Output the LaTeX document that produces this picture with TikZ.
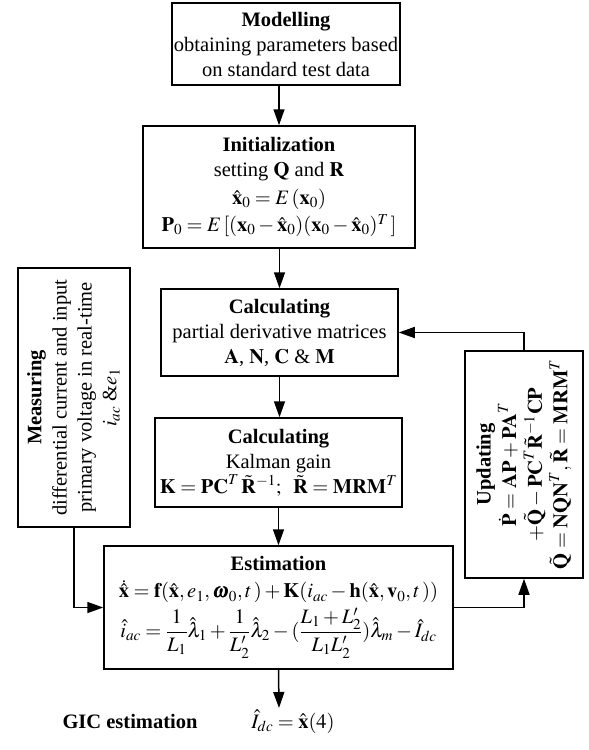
\documentclass[tikz,border=0pt]{standalone}
\usepackage{amsmath}
\usepackage{mathptmx}
\usepackage{bm}
\usepackage{graphicx}
\usepackage[no-math]{fontspec}
\setmainfont{Liberation Serif}
\usetikzlibrary{arrows.meta}
\newcommand{\bx}[1]{\mathbf{#1}}
\begin{document}
\begin{tikzpicture}[x=1pt,y=-1pt,
  box/.style={draw, line width=1.5pt, align=center, inner sep=2pt, font=\fontsize{20.5}{25}\selectfont},
  txt/.style={inner sep=0pt, font=\fontsize{20.5}{25}\selectfont},
  arr/.style={line width=1.5pt, -{Triangle[length=16pt,width=11pt]}}]
\useasboundingbox (0,0) rectangle (589,750);

\node[box, minimum width=228pt, minimum height=82pt] (mod) at (286,44)
  {\textbf{Modelling}\\obtaining parameters based\\on standard test data};

\node[box, minimum width=272pt, minimum height=122pt] (init) at (279,187)
  {\textbf{Initialization}\\setting $\bx{Q}$ and $\bx{R}$\\[3pt]
   $\hat{\bx{x}}_0 = E\,(\bx{x}_0)$\\[2pt]
   $\bx{P}_0 = E\,[(\bx{x}_0-\hat{\bx{x}}_0)(\bx{x}_0-\hat{\bx{x}}_0)^T\,]$};

\node[box, minimum width=237pt, minimum height=87pt] (calc1) at (279.5,332.5)
  {\textbf{Calculating}\\partial derivative matrices\\$\bx{A}$, $\bx{N}$, $\bx{C}$ \& $\bx{M}$};

\node[box, minimum width=247pt, minimum height=89pt] (calc2) at (278.5,462.5)
  {\textbf{Calculating}\\Kalman gain\\
   $\bx{K} = \bx{PC}^T\,\tilde{\bx{R}}^{-1};\;\; \tilde{\bx{R}} = \bx{MRM}^T$};

\node[box, minimum width=349pt, minimum height=123pt] (est) at (278.5,607.5)
  {\textbf{Estimation}\\[2pt]
   $\dot{\hat{\bx{x}}} = \bx{f}(\hat{\bx{x}},e_1,\bm{\omega}_0,t\,) + \bx{K}(i_{ac} - \bx{h}(\hat{\bx{x}},\bx{v}_0,t\,))$\\[4pt]
   $\hat{i}_{ac} = \dfrac{1}{L_1}\hat{\lambda}_1 + \dfrac{1}{L_2'}\hat{\lambda}_2 - (\dfrac{L_1+L_2'}{L_1L_2'})\hat{\lambda}_m - \hat{I}_{dc}$};

\node[box, minimum width=112pt, minimum height=259pt, inner sep=0pt] (meas) at (74,397.5)
  {\rotatebox{90}{\begin{tabular}{@{}c@{}}\textbf{Measuring}\\differential current and input\\primary voltage in real-time\\$i_{ac}$ \&$e_1$\end{tabular}}};

\node[box, minimum width=118pt, minimum height=227pt, inner sep=0pt] (upd) at (524,464.5)
  {\rotatebox{90}{\begin{tabular}{@{}c@{}}\textbf{Updating}\\
   $\dot{\bx{P}} = \bx{AP}+\bx{PA}^T$\\
   $+\tilde{\bx{Q}}-\bx{PC}^T\tilde{\bx{R}}^{-1}\bx{CP}$\\
   $\tilde{\bx{Q}}=\bx{NQN}^T,\tilde{\bx{R}}=\bx{MRM}^T$\end{tabular}}};

\node[txt, anchor=base, font=\fontsize{20.5}{25}\selectfont\bfseries] (gic) at (130,728) {GIC estimation};
\node[txt, anchor=base] (gicf) at (293,728) {$\hat{I}_{dc} = \hat{\bx{x}}(4)$};
\coordinate (gictip) at (279,708);

\draw[arr] (init.north |- mod.south) -- (init.north);
\draw[arr] (calc1.north |- init.south) -- (calc1.north);
\draw[arr] (calc1.south) -- (calc1.south |- calc2.north);
\draw[arr] (calc2.south) -- (calc2.south |- est.north);
\draw[arr] (est.south) -- (gictip);
\draw[arr] (upd.north) |- (calc1.east);
\draw[arr] (est.east) -| (upd.south);
\draw[arr] (meas.south) |- (est.west);
\end{tikzpicture}
\end{document}
